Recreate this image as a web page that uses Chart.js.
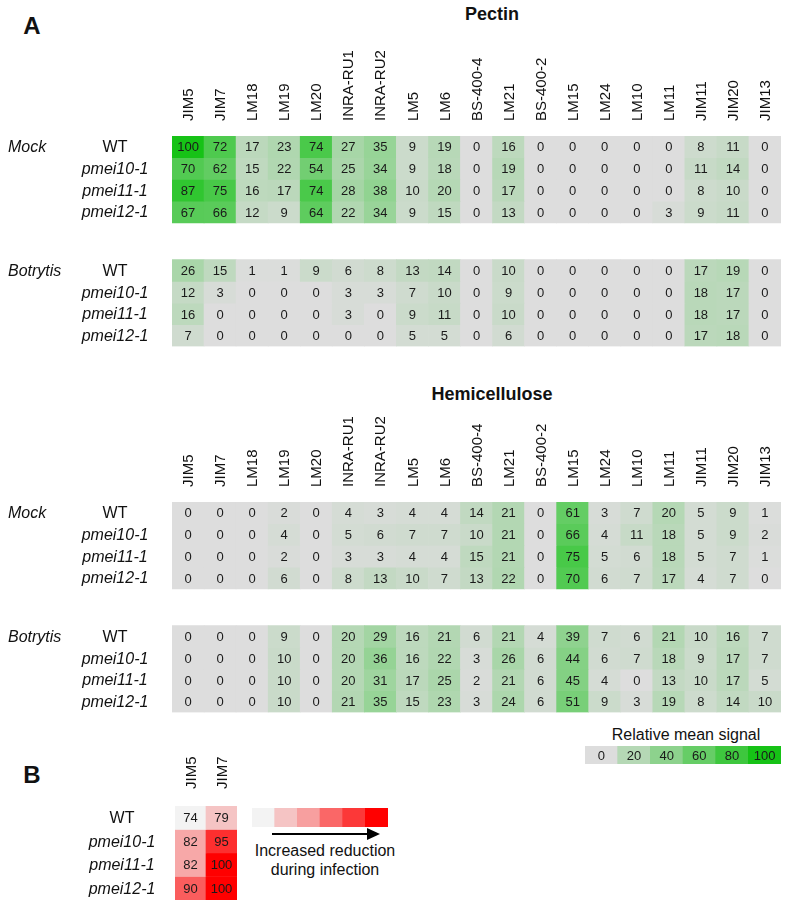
<!DOCTYPE html>
<html>
<head>
<meta charset="utf-8">
<script src="https://cdn.jsdelivr.net/npm/chart.js@4.4.1/dist/chart.umd.min.js"></script>
<style>
  body { margin: 0; background: #fff; }
  #page { position: relative; width: 791px; height: 902px; overflow: hidden; font-family: "Liberation Sans", Arial, sans-serif; color: #111; }
  canvas { position: absolute; }
  .t { position: absolute; transform: translate(-50%, -50%); white-space: nowrap; line-height: 1; }
  .panel { font-weight: bold; font-size: 24px; }
  .title { font-weight: bold; font-size: 18px; }
</style>
</head>
<body>
<div id="page">
  <div class="t panel" style="left:32px;top:26px">A</div>
  <div class="t title" style="left:492px;top:14px">Pectin</div>
  <div class="t title" style="left:492px;top:394px">Hemicellulose</div>
  <div class="t" style="left:686px;top:735px;font-size:16px">Relative mean signal</div>
  <div class="t panel" style="left:32px;top:775px">B</div>
  <div class="t" style="left:325px;top:851px;font-size:16px">Increased reduction</div>
  <div class="t" style="left:325px;top:870px;font-size:16px">during infection</div>

  <canvas id="pectin" width="791" height="360" style="left:0;top:0"></canvas>
  <canvas id="hemi" width="791" height="370" style="left:0;top:360px"></canvas>
  <canvas id="signalKey" width="231" height="30" style="left:560px;top:740px"></canvas>
  <canvas id="reduction" width="250" height="162" style="left:0;top:740px"></canvas>
  <canvas id="reductionKey" width="160" height="45" style="left:240px;top:800px"></canvas>
</div>
<script>
const antibodies = ['JIM5', 'JIM7', 'LM18', 'LM19', 'LM20', 'INRA-RU1', 'INRA-RU2', 'LM5', 'LM6', 'BS-400-4',
  'LM21', 'BS-400-2', 'LM15', 'LM24', 'LM10', 'LM11', 'JIM11', 'JIM20', 'JIM13'];
const genotypes = ['WT', 'pmei10-1', 'pmei11-1', 'pmei12-1'];

const pectinMock = [
  [100, 72, 17, 23, 74, 27, 35, 9, 19, 0, 16, 0, 0, 0, 0, 0, 8, 11, 0],
  [70, 62, 15, 22, 54, 25, 34, 9, 18, 0, 19, 0, 0, 0, 0, 0, 11, 14, 0],
  [87, 75, 16, 17, 74, 28, 38, 10, 20, 0, 17, 0, 0, 0, 0, 0, 8, 10, 0],
  [67, 66, 12, 9, 64, 22, 34, 9, 15, 0, 13, 0, 0, 0, 0, 3, 9, 11, 0]
];
const pectinBotrytis = [
  [26, 15, 1, 1, 9, 6, 8, 13, 14, 0, 10, 0, 0, 0, 0, 0, 17, 19, 0],
  [12, 3, 0, 0, 0, 3, 3, 7, 10, 0, 9, 0, 0, 0, 0, 0, 18, 17, 0],
  [16, 0, 0, 0, 0, 3, 0, 9, 11, 0, 10, 0, 0, 0, 0, 0, 18, 17, 0],
  [7, 0, 0, 0, 0, 0, 0, 5, 5, 0, 6, 0, 0, 0, 0, 0, 17, 18, 0]
];
const hemiMock = [
  [0, 0, 0, 2, 0, 4, 3, 4, 4, 14, 21, 0, 61, 3, 7, 20, 5, 9, 1],
  [0, 0, 0, 4, 0, 5, 6, 7, 7, 10, 21, 0, 66, 4, 11, 18, 5, 9, 2],
  [0, 0, 0, 2, 0, 3, 3, 4, 4, 15, 21, 0, 75, 5, 6, 18, 5, 7, 1],
  [0, 0, 0, 6, 0, 8, 13, 10, 7, 13, 22, 0, 70, 6, 7, 17, 4, 7, 0]
];
const hemiBotrytis = [
  [0, 0, 0, 9, 0, 20, 29, 16, 21, 6, 21, 4, 39, 7, 6, 21, 10, 16, 7],
  [0, 0, 0, 10, 0, 20, 36, 16, 22, 3, 26, 6, 44, 6, 7, 18, 9, 17, 7],
  [0, 0, 0, 10, 0, 20, 31, 17, 25, 2, 21, 6, 45, 4, 0, 13, 10, 17, 5],
  [0, 0, 0, 10, 0, 21, 35, 15, 23, 3, 24, 6, 51, 9, 3, 19, 8, 14, 10]
];
const reductionCols = ['JIM5', 'JIM7'];
const reduction = [[74, 79], [82, 95], [82, 100], [90, 100]];
const signalKey = [0, 20, 40, 60, 80, 100];
const reductionKey = [74, 79, 83, 89, 94, 100];

const FONT = '"Liberation Sans", Arial, sans-serif';
const GRAY = [221, 221, 221], GREEN = [22, 194, 22];
const PALE = [243, 243, 243], RED = [255, 0, 0];

function mix(a, b, t) {
  t = Math.max(0, Math.min(1, t));
  return 'rgb(' + a.map((v, i) => Math.round(v + (b[i] - v) * t)).join(',') + ')';
}
const greenColor = v => mix(GRAY, GREEN, v / 100);
const redColor = v => mix(PALE, RED, (v - 74) / 26);

// numbers inside the cells
const cellText = {
  id: 'cellText',
  afterDatasetsDraw(chart) {
    const o = chart.options.plugins.cellText;
    if (!o || !o.show) return;
    const ctx = chart.ctx;
    ctx.save();
    ctx.font = '13px ' + FONT;
    ctx.fillStyle = '#1a1a1a';
    ctx.textAlign = 'center';
    ctx.textBaseline = 'middle';
    chart.data.datasets.forEach((ds, di) => {
      chart.getDatasetMeta(di).data.forEach((el, i) => {
        ctx.fillText(String(ds.values[i]), el.x, (el.y + el.base) / 2 + 1);
      });
    });
    ctx.restore();
  }
};

// antibody names, vertical, above the columns
const colLabels = {
  id: 'colLabels',
  afterDraw(chart) {
    const o = chart.options.plugins.colLabels;
    if (!o || !o.show) return;
    const ctx = chart.ctx, x = chart.scales.x, top = chart.chartArea.top - o.gap;
    ctx.save();
    ctx.font = '15px ' + FONT;
    ctx.fillStyle = '#111';
    ctx.textAlign = 'left';
    ctx.textBaseline = 'middle';
    chart.data.labels.forEach((lab, i) => {
      ctx.save();
      ctx.translate(x.getPixelForValue(i) + 1, top);
      ctx.rotate(-Math.PI / 2);
      ctx.fillText(lab, 0, 0);
      ctx.restore();
    });
    ctx.restore();
  }
};

// genotype + treatment labels at the left of each row
const rowLabels = {
  id: 'rowLabels',
  afterDraw(chart) {
    const o = chart.options.plugins.rowLabels;
    if (!o || !o.x) return;
    const ctx = chart.ctx, y = chart.scales.y;
    ctx.save();
    ctx.fillStyle = '#111';
    ctx.textBaseline = 'middle';
    chart.data.datasets.forEach(ds => {
      if (!ds.rowLabel) return;
      const py = y.getPixelForValue(ds.row) + 1;
      ctx.textAlign = 'center';
      ctx.font = (ds.rowLabel === 'WT' ? '' : 'italic ') + '16px ' + FONT;
      ctx.fillText(ds.rowLabel, o.x, py);
      if (ds.blockLabel) {
        ctx.textAlign = 'left';
        ctx.font = 'italic 16px ' + FONT;
        ctx.fillText(ds.blockLabel, o.blockX, py);
      }
    });
    ctx.restore();
  }
};

const arrow = {
  id: 'arrow',
  afterDraw(chart) {
    if (!chart.options.plugins.arrow || !chart.options.plugins.arrow.show) return;
    const ctx = chart.ctx, a = chart.chartArea;
    const y = a.bottom + 7, x1 = a.left + 20, x2 = a.right - 8;
    ctx.save();
    ctx.strokeStyle = '#000';
    ctx.fillStyle = '#000';
    ctx.lineWidth = 2;
    ctx.beginPath();
    ctx.moveTo(x1, y);
    ctx.lineTo(x2 - 10, y);
    ctx.stroke();
    ctx.beginPath();
    ctx.moveTo(x2, y);
    ctx.lineTo(x2 - 13, y - 6);
    ctx.lineTo(x2 - 13, y + 6);
    ctx.closePath();
    ctx.fill();
    ctx.restore();
  }
};

function heatmap(id, cfg) {
  const datasets = [];
  cfg.blocks.forEach(b => b.values.forEach((row, r) => {
    const pos = b.start + r;
    datasets.push({
      data: row.map(() => [pos - 0.5, pos + 0.5]),
      values: row,
      row: pos,
      rowLabel: b.rows ? b.rows[r] : null,
      blockLabel: r === 0 ? b.label : null,
      backgroundColor: row.map(cfg.color)
    });
  }));

  return new Chart(document.getElementById(id), {
    type: 'bar',
    data: { labels: cfg.cols, datasets },
    options: {
      responsive: false,
      animation: false,
      devicePixelRatio: 1,
      layout: { padding: cfg.pad },
      datasets: { bar: { grouped: false, barPercentage: 1, categoryPercentage: 1, borderWidth: 0 } },
      plugins: {
        legend: { display: false },
        tooltip: { enabled: false },
        cellText: { show: cfg.showValues !== false },
        colLabels: { show: !!cfg.labelGap, gap: cfg.labelGap },
        rowLabels: cfg.rowLabels || {},
        arrow: { show: !!cfg.arrow }
      },
      scales: {
        x: { display: false, offset: true },
        y: { type: 'linear', display: false, reverse: true, min: -0.5, max: cfg.yMax }
      }
    },
    plugins: [cellText, colLabels, rowLabels, arrow]
  });
}

const PITCH = 21.7;
const GAP_ROWS = 5.7;   // where the Botrytis block starts

// Pectin: grid top at 136
heatmap('pectin', {
  cols: antibodies,
  color: greenColor,
  blocks: [
    { label: 'Mock', rows: genotypes, values: pectinMock, start: 0 },
    { label: 'Botrytis', rows: genotypes, values: pectinBotrytis, start: GAP_ROWS }
  ],
  yMax: GAP_ROWS + 3.5,
  labelGap: 15,
  pad: { left: 172, right: 10, top: 136, bottom: 360 - 136 - (GAP_ROWS + 4) * PITCH },
  rowLabels: { x: 115, blockX: 8 }
});

// Hemicellulose: grid top at 502 (canvas starts at 360)
heatmap('hemi', {
  cols: antibodies,
  color: greenColor,
  blocks: [
    { label: 'Mock', rows: genotypes, values: hemiMock, start: 0 },
    { label: 'Botrytis', rows: genotypes, values: hemiBotrytis, start: GAP_ROWS }
  ],
  yMax: GAP_ROWS + 3.5,
  labelGap: 15,
  pad: { left: 172, right: 10, top: 142, bottom: 370 - 142 - (GAP_ROWS + 4) * PITCH },
  rowLabels: { x: 115, blockX: 8 }
});

heatmap('signalKey', {
  cols: signalKey.map(String),
  color: greenColor,
  blocks: [{ values: [signalKey], start: 0 }],
  yMax: 0.5,
  pad: { left: 25, right: 10, top: 6, bottom: 6 }
});

heatmap('reduction', {
  cols: reductionCols,
  color: redColor,
  blocks: [{ rows: genotypes, values: reduction, start: 0 }],
  yMax: 3.5,
  labelGap: 17,
  pad: { left: 175, right: 13, top: 66, bottom: 2 },
  rowLabels: { x: 122, blockX: 8 }
});

heatmap('reductionKey', {
  cols: reductionKey.map(String),
  color: redColor,
  blocks: [{ values: [reductionKey], start: 0 }],
  yMax: 0.5,
  showValues: false,
  arrow: true,
  pad: { left: 12, right: 12, top: 8, bottom: 18 }
});
</script>
</body>
</html>
